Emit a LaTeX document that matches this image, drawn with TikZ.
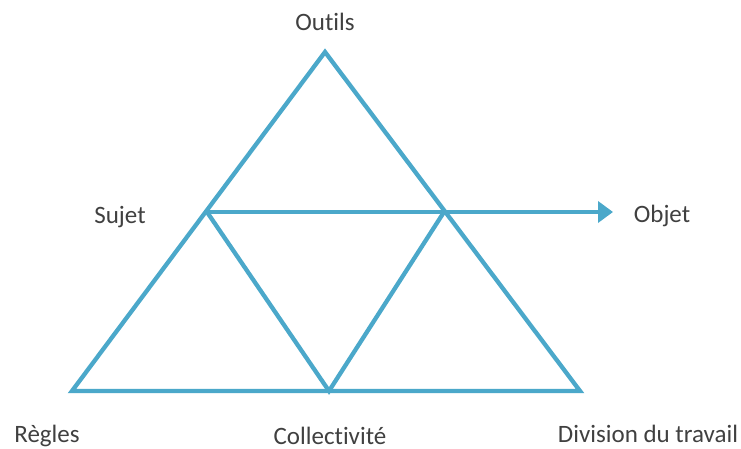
\documentclass[tikz,border=0pt]{standalone}
\usepackage{fontspec}
\setmainfont[Ligatures=NoCommon]{Carlito}
\usetikzlibrary{arrows.meta}
\definecolor{lineblue}{RGB}{75,168,202}
\definecolor{txtgray}{RGB}{64,64,64}
\tikzset{
  edge/.style={draw=lineblue, line width=4.3pt, line join=miter},
  lbl/.style={text=txtgray, font=\fontsize{25}{30}\selectfont, inner sep=0pt}
}
\begin{document}
\begin{tikzpicture}[x=1pt,y=-1pt]
\useasboundingbox (0,0) rectangle (741,449);
\coordinate (A) at (325,52);
\coordinate (BL) at (72,391);
\coordinate (BR) at (580,391);
\coordinate (L) at (207,212);
\coordinate (R) at (444,212);
\coordinate (M) at (329,391);
\coordinate (E) at (613,212);
\draw[edge] (A) -- (BL) -- (BR) -- cycle;
\draw[edge] (L) -- (M) -- (R);
\draw[edge, -{Triangle[length=15pt,width=21pt]}] (L) -- (R) -- (E);
\node[lbl] (outils) at (325,22) {Outils};
\node[lbl] (sujet) at (120,217) {Sujet};
\node[lbl] (objet) at (662,216) {Objet};
\node[lbl] (regles) at (47,436) {Règles};
\node[lbl] (coll) at (330,436) {Collectivité};
\node[lbl] (div) at (648,434) {Division du travail};
\end{tikzpicture}
\end{document}
